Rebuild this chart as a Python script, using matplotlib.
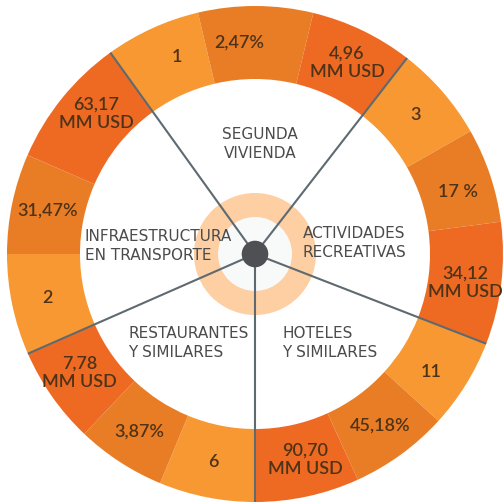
import numpy as np
import matplotlib.pyplot as plt
from matplotlib.patches import Circle

# Sectors, clockwise from the upper-left divider
sectors = ["SEGUNDA\nVIVIENDA", "ACTIVIDADES\nRECREATIVAS", "HOTELES\nY SIMILARES",
           "RESTAURANTES\nY SIMILARES", "INFRAESTRUCTURA\nEN TRANSPORTE"]
ranks = ["1", "3", "11", "6", "2"]
shares = ["2,47%", "17 %", "45,18%", "3,87%", "31,47%"]
amounts = ["4,96\nMM USD", "34,12\nMM USD", "90,70\nMM USD", "7,78\nMM USD", "63,17\nMM USD"]

# Angular span (degrees) of each ring segment: rank, share, amount per sector
spans = [22.4, 26.9, 24.2,
         22.5, 22.2, 28.7,
         21.1, 23.2, 24.5,
         22.5, 21.0, 22.8,
         23.7, 23.5, 30.8]
start_angle = 125.7

# small angular nudges for a few ring labels (degrees, + = counter-clockwise)
label_shift = [-3, 4.5, 0,
               0, -1.5, -1,
               -2, 0, 1.5,
               0, 0, -1,
               0, 0, -2.5]

# Where each sector name sits (x, top-line y in pixels) and its alignment
name_pos = [(260, 134, "center"), (303, 233, "left"), (282, 333, "left"),
            (128, 333, "left"), (85, 236, "left")]

c_light, c_mid, c_dark = "#F79832", "#E97D25", "#EE6A23"
txt_ring = "#4e3318"
txt_name = "#4b4b4b"
line_col = "#5e6a70"

W = H = 504
cx, cy = 255, 254
R_out, R_in = 248, 175

fig = plt.figure(figsize=(5.04, 5.04), dpi=100)
ax = fig.add_axes([0, 0, 1, 1])

labels = []
for r, s, a in zip(ranks, shares, amounts):
    labels += [r, s, a]

wedges, _ = ax.pie(spans, radius=R_out, center=(0, 0), startangle=start_angle,
                   counterclock=False, colors=[c_light, c_mid, c_dark] * 5,
                   wedgeprops=dict(width=R_out - R_in, linewidth=0))

for w, lab, dt in zip(wedges, labels, label_shift):
    mid = np.deg2rad((w.theta1 + w.theta2) / 2 + dt)
    ax.text(212 * np.cos(mid), 212 * np.sin(mid), lab, ha="center", va="center",
            fontsize=13, color=txt_ring, linespacing=1.15,
            family="Lato", fontweight="semibold")

# inner light ring and hub
ax.add_patch(Circle((0, 0), 61, fc="#FDCFA2", ec="none", zorder=2))
ax.add_patch(Circle((0, 0), 37, fc="#F8F9F9", ec="none", zorder=2))

# sector dividers
bounds = start_angle - np.cumsum([0] + spans)[::3][:5]
for b in bounds:
    t = np.deg2rad(b)
    ax.plot([0, R_out * np.cos(t)], [0, R_out * np.sin(t)], color=line_col,
            lw=1.5, zorder=3, solid_capstyle="butt")

ax.add_patch(Circle((0, 0), 13.3, fc="#4f5053", ec="none", zorder=4))

for name, (px, py, ha) in zip(sectors, name_pos):
    ax.text(px - cx, cy - py + 7, name, ha=ha, va="top", fontsize=11,
            color=txt_name, linespacing=1.3)

ax.set_xlim(-cx, W - cx)
ax.set_ylim(-(H - cy), cy)
ax.set_aspect("equal")
ax.axis("off")

fig.savefig("out.png", dpi=100, facecolor="white")
